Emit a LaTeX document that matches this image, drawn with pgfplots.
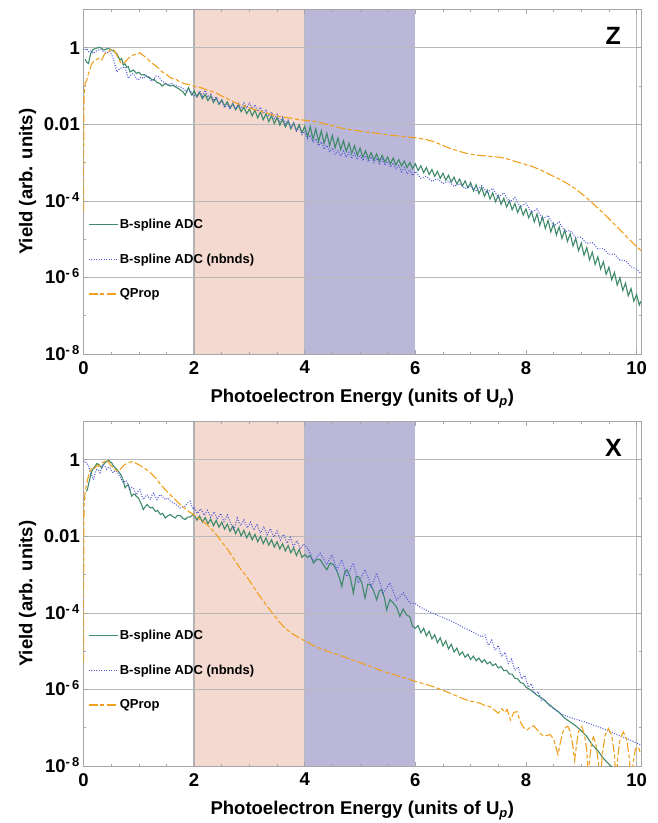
\documentclass[border=0pt]{standalone}
\usepackage{fontspec}
\setmainfont{Liberation Sans}
\usepackage{pgfplots}
\pgfplotsset{compat=1.18}

\definecolor{cgreen}{RGB}{62,138,106}
\definecolor{cblue}{RGB}{80,90,215}
\definecolor{corange}{RGB}{240,160,30}
\definecolor{csalmon}{RGB}{243,217,207}
\definecolor{cpurple}{RGB}{186,183,216}

\pgfplotsset{
  panel/.style={
    set layers,
    width=557.5pt, height=344.5pt, scale only axis,
    xmin=0, xmax=10.08, ymin=-8, ymax=1,
    xtick={0,2,4,6,8,10}, xticklabels={0,2,4,6,8,10},
    minor xtick={0.5,1,...,10},
    ytick={-8,-6,-4,-2,0},
    yticklabels={10\textsuperscript{-\,8},10\textsuperscript{-\,6},10\textsuperscript{-\,4},0.01,1},
    minor ytick={-7,-5,-3,-1},
    ymajorgrids, grid style={gray!55, line width=0.7pt},
    tick align=inside, major tick length=4pt, minor tick length=2.5pt,
    every tick/.style={gray!70, line width=0.6pt},
    axis line style={gray!70, line width=0.8pt},
    tick label style={font=\fontsize{18.5}{22}\selectfont\bfseries},
    yticklabel style={anchor=base east, inner sep=0pt, xshift=-3.5pt, yshift=-6.5pt},
    xticklabel style={inner sep=0pt, yshift=-7pt},
    label style={font=\fontsize{18.5}{22}\selectfont\bfseries},
    xlabel={Photoelectron Energy (units of U\textsubscript{\textit{p}})},
    ylabel={Yield (arb. units)},
    xlabel style={at={(axis description cs:0.5,0)}, anchor=north, yshift=-32pt},
    ylabel style={at={(axis description cs:-0.1004,0.5)}, anchor=center},
    no markers,
    legend cell align=left,
    legend image code/.code={\draw[##1, line width=1.2pt] (0pt,0pt) -- (29pt,0pt);},
    legend style={draw=none, fill=none, anchor=north west,
      font=\fontsize{13}{15}\selectfont\bfseries, row sep=20.8pt,
      inner sep=0pt, nodes={inner sep=1.5pt}},
  },
  gline/.style={cgreen, line width=1.1pt},
  bline/.style={cblue, line width=1.1pt, dash pattern=on 0.9pt off 1.6pt},
  oline/.style={corange, line width=1.1pt, dash pattern=on 9pt off 2.5pt on 4pt off 2.5pt},
}

\newcommand{\bands}{%
  \begin{pgfonlayer}{axis background}
    \fill[csalmon] (axis cs:2,-8) rectangle (axis cs:4,1);
    \fill[cpurple] (axis cs:4,-8) rectangle (axis cs:6,1);
    \draw[gray!60, line width=1.4pt] (axis cs:2,-8) -- (axis cs:2,1);
    \draw[gray!55, line width=1pt] (axis cs:4,-8) -- (axis cs:4,1);
    \draw[gray!55, line width=1.2pt] (axis cs:10,-8) -- (axis cs:10,1);
  \end{pgfonlayer}}

\begin{document}
\begin{tikzpicture}

% ---------- Z ----------
\begin{axis}[panel, at={(0pt,0pt)}, anchor=south west,
  legend style={at={(0.008,0.396)}}]
\bands
\addplot[gline] coordinates {
(0.03,-0.30)(0.06,-0.38)(0.09,-0.41)(0.13,-0.15)(0.17,-0.05)(0.21,-0.02)(0.26,0.00)(0.30,0.01)(0.34,-0.03)(0.37,-0.06)
(0.41,-0.03)(0.45,-0.02)(0.50,-0.05)(0.54,-0.08)(0.60,-0.15)(0.66,-0.32)(0.69,-0.28)(0.72,-0.45)(0.75,-0.42)(0.78,-0.51)
(0.81,-0.49)(0.84,-0.63)(0.90,-0.58)(0.96,-0.67)(1.00,-0.64)(1.05,-0.71)(1.10,-0.70)(1.15,-0.76)(1.20,-0.78)(1.24,-0.84)
(1.28,-0.83)(1.33,-0.91)(1.38,-0.93)(1.42,-1.00)(1.48,-0.93)(1.52,-0.97)(1.57,-1.00)(1.62,-0.98)(1.66,-1.02)(1.71,-1.06)
(1.75,-1.10)(1.80,-1.15)(1.84,-1.24)(1.87,-1.12)(1.90,-1.04)(1.93,-1.15)(1.96,-1.24)
(2.00,-1.12)(2.05,-1.28)(2.10,-1.17)(2.15,-1.33)(2.20,-1.22)(2.25,-1.38)(2.30,-1.26)(2.35,-1.43)(2.40,-1.31)(2.45,-1.48)
(2.50,-1.36)(2.55,-1.52)(2.60,-1.41)(2.65,-1.57)(2.70,-1.46)(2.75,-1.62)(2.80,-1.50)(2.85,-1.67)(2.90,-1.55)(2.95,-1.72)
(3.00,-1.60)(3.05,-1.78)(3.10,-1.63)(3.15,-1.83)(3.20,-1.68)(3.25,-1.88)(3.30,-1.72)(3.35,-1.93)(3.40,-1.77)(3.45,-1.98)
(3.50,-1.82)(3.55,-2.02)(3.60,-1.87)(3.65,-2.07)(3.70,-1.92)(3.75,-2.12)(3.80,-1.96)(3.85,-2.17)(3.90,-2.01)(3.95,-2.22)
(4.00,-2.05)(4.05,-2.33)(4.10,-2.06)(4.15,-2.39)(4.20,-2.12)(4.25,-2.45)(4.30,-2.17)(4.35,-2.50)(4.40,-2.23)(4.45,-2.56)
(4.50,-2.29)(4.55,-2.61)(4.60,-2.36)(4.65,-2.66)(4.70,-2.43)(4.75,-2.71)(4.80,-2.49)(4.85,-2.76)(4.90,-2.56)(4.95,-2.81)
(5.00,-2.62)(5.05,-2.86)(5.10,-2.69)(5.15,-2.90)(5.20,-2.74)(5.25,-2.93)(5.30,-2.77)(5.35,-2.96)(5.40,-2.81)(5.45,-2.99)
(5.50,-2.85)(5.55,-3.03)(5.60,-2.88)(5.65,-3.06)(5.70,-2.92)(5.75,-3.09)(5.80,-2.96)(5.85,-3.13)(5.90,-3.00)(5.95,-3.16)
(6.00,-3.03)(6.05,-3.21)(6.10,-3.08)(6.15,-3.26)(6.20,-3.13)(6.25,-3.31)(6.30,-3.18)(6.35,-3.36)(6.40,-3.23)(6.45,-3.41)
(6.50,-3.28)(6.55,-3.46)(6.60,-3.33)(6.65,-3.51)(6.70,-3.38)(6.75,-3.56)(6.80,-3.43)(6.85,-3.61)(6.90,-3.48)(6.95,-3.66)
(7.00,-3.52)(7.05,-3.74)(7.10,-3.58)(7.15,-3.81)(7.20,-3.65)(7.25,-3.88)(7.30,-3.72)(7.35,-3.95)(7.40,-3.79)(7.45,-4.02)
(7.50,-3.86)(7.55,-4.09)(7.60,-3.93)(7.65,-4.16)(7.70,-4.00)(7.75,-4.23)(7.80,-4.07)(7.85,-4.30)(7.90,-4.14)(7.95,-4.37)
(8.00,-4.21)(8.05,-4.44)(8.10,-4.28)(8.15,-4.55)(8.20,-4.34)(8.25,-4.64)(8.30,-4.42)(8.35,-4.72)(8.40,-4.51)(8.45,-4.81)
(8.50,-4.59)(8.55,-4.89)(8.60,-4.68)(8.65,-4.98)(8.70,-4.76)(8.75,-5.06)(8.80,-4.86)(8.85,-5.18)(8.90,-4.98)(8.95,-5.30)
(9.00,-5.10)(9.05,-5.42)(9.10,-5.22)(9.15,-5.54)(9.20,-5.34)(9.25,-5.66)(9.30,-5.46)(9.35,-5.78)(9.40,-5.59)(9.45,-5.92)
(9.50,-5.73)(9.55,-6.06)(9.60,-5.87)(9.65,-6.20)(9.70,-6.01)(9.75,-6.34)(9.80,-6.15)(9.85,-6.48)(9.90,-6.29)(9.95,-6.62)
(10.00,-6.45)(10.05,-6.72)(10.08,-6.62)
};
\addlegendentry{B-spline ADC}
\addplot[bline] coordinates {
(0.00,-0.03)(0.03,-0.06)(0.06,-0.02)(0.09,-0.10)(0.13,-0.08)(0.18,-0.15)(0.22,-0.09)(0.27,-0.06)(0.31,-0.04)(0.36,-0.10)
(0.42,-0.13)(0.48,-0.10)(0.54,-0.28)(0.57,-0.45)(0.60,-0.63)(0.66,-0.54)(0.75,-0.50)(0.81,-0.80)(0.86,-0.70)(0.90,-0.67)
(0.95,-0.80)(0.99,-0.84)(1.04,-0.76)(1.08,-0.80)(1.13,-0.72)(1.18,-0.76)(1.22,-0.86)(1.27,-0.84)(1.31,-0.74)(1.36,-0.76)
(1.41,-0.86)(1.45,-0.89)(1.50,-0.94)(1.54,-0.97)(1.59,-0.92)(1.63,-0.97)(1.69,-1.00)(1.75,-1.02)(1.81,-1.08)(1.87,-1.15)
(1.93,-1.12)(1.99,-1.24)
(2.05,-1.28)(2.10,-1.13)(2.15,-1.26)(2.20,-1.11)(2.25,-1.29)(2.30,-1.19)(2.35,-1.38)(2.40,-1.28)(2.45,-1.47)
(2.50,-1.38)(2.55,-1.57)(2.60,-1.48)(2.65,-1.61)(2.70,-1.46)(2.75,-1.60)(2.80,-1.45)(2.85,-1.59)(2.90,-1.44)(2.95,-1.58)
(3.00,-1.43)(3.05,-1.60)(3.10,-1.49)(3.15,-1.66)(3.20,-1.55)(3.25,-1.72)(3.30,-1.61)(3.35,-1.79)(3.40,-1.68)(3.45,-1.85)
(3.50,-1.74)(3.55,-1.92)(3.60,-1.81)(3.65,-1.99)(3.70,-1.89)(3.75,-2.08)(3.80,-1.98)(3.85,-2.17)(3.90,-2.08)(3.95,-2.27)
(4.00,-2.18)(4.05,-2.37)(4.10,-2.28)(4.15,-2.47)(4.20,-2.38)(4.25,-2.56)(4.30,-2.46)(4.35,-2.65)(4.40,-2.55)(4.45,-2.72)
(4.50,-2.61)(4.55,-2.79)(4.60,-2.68)(4.65,-2.83)(4.70,-2.70)(4.75,-2.86)(4.80,-2.73)(4.85,-2.89)(4.90,-2.76)(4.95,-2.92)
(5.00,-2.80)(5.05,-2.95)(5.10,-2.82)(5.15,-2.98)(5.20,-2.85)(5.25,-3.00)(5.30,-2.88)(5.35,-3.03)(5.40,-2.91)(5.45,-3.07)
(5.50,-2.96)(5.55,-3.12)(5.60,-3.01)(5.65,-3.18)(5.70,-3.07)(5.75,-3.24)(5.80,-3.13)(5.85,-3.29)(5.90,-3.18)(5.95,-3.34)
(6.00,-3.23)(6.10,-3.41)(6.20,-3.36)(6.30,-3.49)(6.40,-3.42)(6.50,-3.55)(6.60,-3.48)(6.70,-3.62)(6.80,-3.55)(6.90,-3.68)
(7.00,-3.61)(7.10,-3.73)(7.20,-3.60)(7.30,-3.79)(7.40,-3.67)(7.50,-3.91)(7.60,-3.79)(7.70,-4.03)(7.80,-3.91)(7.90,-4.16)
(8.00,-4.06)(8.10,-4.31)(8.20,-4.21)(8.30,-4.48)(8.40,-4.38)(8.50,-4.65)(8.60,-4.55)(8.70,-4.80)(8.80,-4.77)(8.90,-4.95)
(9.00,-4.95)(9.10,-5.11)(9.20,-5.09)(9.30,-5.25)(9.40,-5.24)(9.50,-5.40)(9.60,-5.39)(9.70,-5.55)(9.80,-5.56)(9.90,-5.72)
(10.00,-5.78)(10.08,-5.90)
};
\addlegendentry{B-spline ADC (nbnds)}
\addplot[oline] coordinates {
(0.00,-4.30)(0.005,-2.00)(0.01,-1.28)(0.03,-0.93)(0.06,-0.84)(0.09,-0.67)(0.12,-0.55)(0.15,-0.41)(0.18,-0.36)(0.21,-0.32)
(0.24,-0.30)(0.27,-0.28)(0.30,-0.29)(0.33,-0.32)(0.36,-0.22)(0.39,-0.15)(0.42,-0.14)(0.45,-0.10)(0.48,-0.06)(0.51,-0.02)
(0.54,-0.05)(0.57,-0.10)(0.60,-0.18)(0.63,-0.28)(0.66,-0.36)(0.69,-0.41)(0.72,-0.40)(0.75,-0.37)(0.78,-0.33)(0.81,-0.28)
(0.85,-0.23)(0.90,-0.19)(0.95,-0.16)(0.99,-0.15)(1.02,-0.13)(1.05,-0.17)(1.10,-0.22)(1.15,-0.28)(1.20,-0.35)(1.24,-0.41)
(1.28,-0.44)(1.33,-0.50)(1.38,-0.57)(1.42,-0.63)(1.47,-0.66)(1.51,-0.71)(1.56,-0.77)(1.60,-0.80)(1.65,-0.81)(1.69,-0.84)
(1.75,-0.90)(1.81,-0.93)(1.87,-0.95)(1.93,-0.97)(1.99,-1.00)(2.05,-1.02)(2.14,-1.05)(2.23,-1.10)(2.32,-1.14)(2.41,-1.19)
(2.50,-1.26)(2.59,-1.32)(2.68,-1.39)(2.77,-1.45)(2.86,-1.50)(2.95,-1.54)(3.04,-1.59)(3.13,-1.63)(3.22,-1.67)(3.32,-1.71)
(3.41,-1.75)(3.50,-1.78)(3.62,-1.81)(3.74,-1.84)(3.86,-1.87)(3.98,-1.89)(4.10,-1.91)(4.22,-1.93)(4.34,-1.98)(4.46,-2.02)
(4.58,-2.07)(4.70,-2.11)(4.88,-2.15)(5.06,-2.19)(5.24,-2.22)(5.42,-2.26)(5.60,-2.29)(5.80,-2.32)(6.00,-2.35)(6.17,-2.39)
(6.33,-2.45)(6.48,-2.54)(6.63,-2.63)(6.78,-2.70)(6.93,-2.76)(7.08,-2.80)(7.23,-2.82)(7.38,-2.84)(7.53,-2.86)(7.68,-2.91)
(7.83,-2.98)(7.98,-3.04)(8.13,-3.11)(8.29,-3.21)(8.44,-3.32)(8.59,-3.42)(8.74,-3.54)(8.89,-3.68)(9.04,-3.85)(9.19,-4.04)
(9.34,-4.24)(9.49,-4.45)(9.64,-4.67)(9.79,-4.89)(9.94,-5.11)(10.08,-5.30)
};
\addlegendentry{QProp}
\node[font=\fontsize{25}{30}\selectfont\bfseries] at (axis cs:9.58,0.30) {Z};
\end{axis}

% ---------- X ----------
\begin{axis}[panel, at={(0pt,-412pt)}, anchor=south west,
  legend style={at={(0.008,0.399)}}]
\bands
\addplot[gline] coordinates {
(0.05,-0.82)(0.07,-0.78)(0.11,-0.52)(0.15,-0.30)(0.18,-0.22)(0.21,-0.17)(0.24,-0.10)(0.27,-0.12)(0.30,-0.16)(0.33,-0.21)
(0.36,-0.12)(0.39,-0.08)(0.42,-0.04)(0.45,-0.01)(0.48,-0.05)(0.51,-0.08)(0.54,-0.16)(0.57,-0.21)(0.60,-0.25)(0.63,-0.30)
(0.66,-0.36)(0.69,-0.43)(0.72,-0.55)(0.75,-0.73)(0.78,-0.68)(0.81,-0.65)(0.84,-0.80)(0.87,-0.95)(0.90,-0.90)(0.93,-0.91)
(0.96,-0.96)(0.99,-0.99)(1.02,-1.08)(1.05,-1.17)(1.08,-1.30)(1.12,-1.22)(1.15,-1.17)(1.18,-1.22)(1.21,-1.26)(1.25,-1.24)
(1.30,-1.35)(1.34,-1.32)(1.39,-1.43)(1.43,-1.40)(1.48,-1.52)(1.52,-1.47)(1.57,-1.43)(1.61,-1.48)(1.66,-1.52)(1.70,-1.45)
(1.75,-1.46)(1.80,-1.53)(1.84,-1.56)(1.88,-1.50)(1.93,-1.49)(1.96,-1.46)(1.99,-1.43)(2.03,-1.52)
(2.05,-1.58)(2.10,-1.47)(2.15,-1.63)(2.20,-1.51)(2.25,-1.67)(2.30,-1.55)(2.35,-1.72)(2.40,-1.58)(2.45,-1.76)
(2.50,-1.63)(2.55,-1.81)(2.60,-1.68)(2.65,-1.87)(2.70,-1.73)(2.75,-1.93)(2.80,-1.79)(2.85,-1.99)(2.90,-1.84)(2.95,-2.04)
(3.00,-1.90)(3.05,-2.09)(3.10,-1.95)(3.15,-2.14)(3.20,-2.00)(3.25,-2.19)(3.30,-2.04)(3.35,-2.23)(3.40,-2.09)(3.45,-2.28)
(3.50,-2.14)(3.55,-2.33)(3.60,-2.19)(3.65,-2.38)(3.70,-2.24)(3.75,-2.43)(3.80,-2.30)(3.85,-2.50)(3.90,-2.34)(3.95,-2.55)
(4.00,-2.48)(4.05,-2.55)(4.10,-2.50)(4.16,-2.70)(4.22,-2.60)(4.28,-2.61)(4.34,-2.75)(4.40,-2.87)(4.46,-2.70)(4.52,-2.74)
(4.58,-2.90)(4.63,-3.10)(4.67,-3.31)(4.72,-2.95)(4.76,-2.87)(4.82,-3.05)(4.88,-3.48)(4.93,-3.05)(4.97,-3.05)(5.03,-3.20)
(5.09,-3.61)(5.14,-3.25)(5.18,-3.26)(5.24,-3.40)(5.30,-3.66)(5.35,-3.42)(5.39,-3.40)(5.44,-3.60)(5.48,-3.92)(5.54,-3.65)
(5.60,-3.74)(5.66,-3.85)(5.72,-4.09)(5.78,-3.90)(5.84,-4.05)(5.90,-4.10)(5.95,-4.35)(6.00,-4.40)
(6.05,-4.33)(6.10,-4.52)(6.15,-4.40)(6.20,-4.60)(6.25,-4.48)(6.30,-4.68)(6.35,-4.57)(6.40,-4.78)(6.45,-4.65)(6.50,-4.86)
(6.55,-4.73)(6.60,-4.94)(6.65,-4.82)(6.70,-5.02)(6.75,-4.92)(6.80,-5.10)(6.85,-5.02)(6.90,-5.16)(6.95,-5.08)(7.00,-5.22)
(7.05,-5.13)(7.10,-5.25)(7.15,-5.18)(7.20,-5.29)(7.25,-5.22)(7.30,-5.33)(7.35,-5.28)(7.40,-5.38)(7.45,-5.33)(7.50,-5.44)
(7.55,-5.40)(7.60,-5.51)(7.65,-5.50)(7.70,-5.60)(7.75,-5.60)(7.80,-5.71)(7.85,-5.72)(7.90,-5.82)(7.95,-5.84)(8.00,-5.94)
(8.10,-6.03)(8.20,-6.15)(8.30,-6.24)(8.40,-6.37)(8.50,-6.49)(8.60,-6.60)(8.70,-6.75)(8.80,-6.85)(8.90,-6.95)(9.00,-7.08)
(9.10,-7.23)(9.20,-7.45)(9.30,-7.60)(9.40,-7.80)(9.50,-7.95)(9.60,-8.10)
};
\addlegendentry{B-spline ADC}
\addplot[bline] coordinates {
(0.00,-0.05)(0.03,-0.04)(0.06,-0.10)(0.09,-0.13)(0.12,-0.34)(0.15,-0.40)(0.18,-0.52)(0.21,-0.35)(0.24,-0.25)(0.27,-0.28)
(0.30,-0.34)(0.33,-0.20)(0.36,-0.12)(0.39,-0.18)(0.42,-0.25)(0.45,-0.20)(0.48,-0.21)(0.51,-0.30)(0.54,-0.34)(0.57,-0.28)
(0.60,-0.30)(0.63,-0.38)(0.66,-0.43)(0.69,-0.52)(0.72,-0.60)(0.75,-0.55)(0.78,-0.56)(0.81,-0.68)(0.84,-0.78)(0.87,-0.72)
(0.90,-0.73)(0.93,-0.84)(0.96,-0.91)(0.99,-0.82)(1.02,-0.78)(1.05,-0.92)(1.08,-1.04)(1.12,-0.96)(1.15,-0.91)(1.18,-0.98)
(1.21,-1.04)(1.24,-0.92)(1.27,-0.87)(1.30,-0.96)(1.33,-1.04)(1.36,-0.96)(1.39,-0.91)(1.44,-0.98)(1.48,-1.04)(1.53,-1.00)
(1.57,-1.08)(1.62,-1.12)(1.66,-1.17)(1.71,-1.20)(1.75,-1.26)(1.80,-1.22)(1.84,-1.21)(1.88,-1.12)(1.93,-1.08)(1.96,-1.22)
(1.99,-1.30)
(2.00,-1.24)(2.06,-1.40)(2.12,-1.28)(2.18,-1.45)(2.24,-1.32)(2.30,-1.50)(2.36,-1.36)(2.42,-1.55)(2.48,-1.40)(2.54,-1.61)
(2.60,-1.44)(2.66,-1.66)(2.72,-1.85)(2.78,-1.52)(2.84,-1.72)(2.90,-1.57)(2.96,-1.78)(3.02,-1.63)(3.08,-1.84)(3.14,-1.68)
(3.20,-1.92)(3.26,-1.74)(3.32,-1.96)(3.38,-1.80)(3.44,-2.02)(3.50,-1.86)(3.56,-2.10)(3.62,-1.95)(3.68,-2.18)(3.74,-2.03)
(3.80,-2.27)(3.86,-2.11)(3.92,-2.33)(3.98,-2.20)
(4.07,-2.35)(4.16,-2.65)(4.28,-2.44)(4.40,-2.74)(4.49,-2.48)(4.58,-2.87)(4.67,-2.61)(4.76,-3.05)(4.88,-2.70)(4.97,-3.22)
(5.09,-2.87)(5.21,-3.31)(5.30,-2.96)(5.42,-3.48)(5.54,-3.22)(5.66,-3.66)(5.78,-3.48)(5.90,-3.74)(6.00,-3.76)
(6.10,-3.86)(6.20,-3.93)(6.30,-4.00)(6.40,-4.06)(6.50,-4.12)(6.60,-4.18)(6.70,-4.25)(6.80,-4.33)(6.90,-4.40)(7.00,-4.47)
(7.10,-4.55)(7.20,-4.62)(7.26,-4.58)(7.32,-4.85)(7.38,-4.71)(7.44,-4.98)(7.50,-4.85)(7.56,-5.14)(7.62,-5.03)(7.68,-5.32)
(7.74,-5.21)(7.80,-5.50)(7.86,-5.41)(7.92,-5.72)(7.98,-5.63)(8.04,-5.94)(8.10,-5.85)(8.16,-6.12)(8.22,-6.06)(8.28,-6.28)
(8.34,-6.26)(8.40,-6.40)(8.50,-6.50)(8.60,-6.60)(8.70,-6.68)(8.80,-6.73)(8.90,-6.78)(9.00,-6.82)(9.10,-6.87)(9.20,-6.92)
(9.30,-6.97)(9.40,-7.03)(9.50,-7.09)(9.60,-7.15)(9.70,-7.21)(9.80,-7.27)(9.90,-7.33)(10.00,-7.40)(10.08,-7.45)
};
\addlegendentry{B-spline ADC (nbnds)}
\addplot[oline] coordinates {
(0.00,-5.30)(0.005,-2.00)(0.01,-1.20)(0.03,-0.82)(0.06,-0.60)(0.09,-0.43)(0.12,-0.30)(0.15,-0.21)(0.18,-0.24)(0.21,-0.21)
(0.24,-0.15)(0.27,-0.17)(0.30,-0.12)(0.33,-0.08)(0.36,-0.06)(0.39,-0.04)(0.42,0.00)(0.45,-0.06)(0.48,-0.12)(0.51,-0.17)
(0.54,-0.22)(0.57,-0.25)(0.60,-0.28)(0.63,-0.30)(0.66,-0.26)(0.69,-0.21)(0.72,-0.16)(0.75,-0.12)(0.78,-0.10)(0.81,-0.08)
(0.87,-0.05)(0.92,-0.07)(0.96,-0.10)(1.00,-0.13)(1.05,-0.17)(1.11,-0.23)(1.18,-0.30)(1.24,-0.38)(1.30,-0.47)(1.36,-0.58)
(1.42,-0.69)(1.48,-0.78)(1.54,-0.87)(1.60,-0.96)(1.66,-1.04)(1.72,-1.13)(1.78,-1.21)(1.84,-1.28)(1.90,-1.35)(1.99,-1.43)
(2.05,-1.50)(2.11,-1.56)(2.17,-1.62)(2.23,-1.69)(2.29,-1.77)(2.35,-1.87)(2.41,-1.97)(2.47,-2.09)(2.53,-2.20)(2.59,-2.31)
(2.65,-2.44)(2.71,-2.57)(2.77,-2.70)(2.83,-2.83)(2.89,-2.94)(2.95,-3.05)(3.01,-3.18)(3.07,-3.31)(3.13,-3.44)(3.19,-3.57)
(3.26,-3.70)(3.32,-3.83)(3.38,-3.94)(3.44,-4.05)(3.50,-4.16)(3.56,-4.27)(3.62,-4.36)(3.68,-4.44)(3.77,-4.54)(3.86,-4.62)
(3.95,-4.69)(4.04,-4.76)(4.13,-4.83)(4.22,-4.90)(4.34,-4.96)(4.46,-5.03)(4.58,-5.08)(4.70,-5.14)(4.82,-5.21)(4.97,-5.28)
(5.12,-5.36)(5.27,-5.44)(5.42,-5.53)(5.57,-5.59)(5.72,-5.66)(5.86,-5.72)(6.00,-5.79)(6.17,-5.86)(6.33,-5.93)(6.48,-6.01)
(6.63,-6.10)(6.78,-6.19)(6.93,-6.28)(7.05,-6.32)(7.17,-6.36)(7.26,-6.42)(7.35,-6.45)(7.44,-6.55)
(7.50,-6.62)(7.56,-6.50)(7.62,-6.60)(7.66,-6.52)(7.72,-6.80)(7.78,-6.60)(7.84,-6.58)(7.90,-6.85)(7.96,-7.00)(8.02,-7.06)
(8.08,-6.98)(8.14,-6.95)(8.20,-7.05)(8.26,-7.15)(8.32,-7.22)(8.38,-7.20)(8.44,-7.18)(8.50,-7.30)(8.55,-7.55)(8.58,-7.70)
(8.62,-7.40)(8.67,-7.10)(8.72,-6.98)(8.76,-6.97)(8.80,-7.10)(8.85,-7.50)(8.88,-7.85)(8.91,-7.50)(8.95,-7.10)(9.01,-6.97)
(9.06,-7.20)(9.10,-7.60)(9.13,-8.30)(9.16,-7.70)(9.19,-7.35)(9.22,-7.24)(9.26,-7.40)(9.31,-7.90)(9.34,-8.50)(9.38,-7.70)
(9.43,-7.20)(9.49,-7.02)(9.55,-7.20)(9.60,-7.70)(9.63,-8.50)(9.66,-7.75)(9.70,-7.30)(9.76,-7.11)(9.82,-7.30)(9.87,-7.80)
(9.90,-8.50)(9.94,-7.90)(9.98,-7.55)(10.03,-7.50)(10.08,-7.70)
};
\addlegendentry{QProp}
\node[font=\fontsize{25}{30}\selectfont\bfseries] at (axis cs:9.58,0.30) {X};
\end{axis}
\pgfresetboundingbox
\useasboundingbox (-83.5pt,-469pt) rectangle (574.5pt,354pt);
\end{tikzpicture}
\end{document}
